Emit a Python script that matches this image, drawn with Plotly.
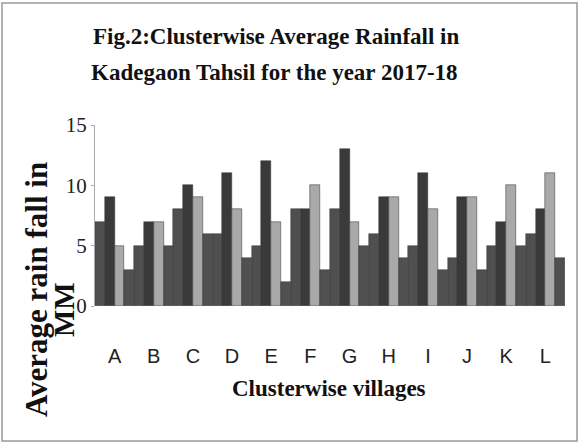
import plotly.graph_objects as go

villages = ["A", "B", "C", "D", "E", "F", "G", "H", "I", "J", "K", "L"]
series1 = [7, 5, 8, 6, 5, 8, 8, 6, 5, 4, 5, 6]
series2 = [9, 7, 10, 11, 12, 8, 13, 9, 11, 9, 7, 8]
series3 = [5, 7, 9, 8, 7, 10, 7, 9, 8, 9, 10, 11]
series4 = [3, 5, 6, 4, 2, 3, 5, 4, 3, 3, 5, 4]
y_ticks = [0, 5, 10, 15]

W, H = 580, 445
L, R, T, B = 95, 15, 125, 139
pw, ph = W - L - R, H - T - B

def px(x):
    return (x - L) / pw

def py(y):
    return (H - B - y) / ph

colors = ["#4f4f4f", "#3a3a3a", "#a9a9a9", "#505050"]
fig = go.Figure()
for s, c in zip([series1, series2, series3, series4], colors):
    fig.add_trace(go.Bar(x=villages, y=s, marker=dict(color=c, line=dict(width=0.5, color="#333"))))

serif = "Liberation Serif"
fig.update_layout(
    width=W, height=H,
    margin=dict(l=L, r=R, t=T, b=B),
    paper_bgcolor="white", plot_bgcolor="white",
    barmode="group", bargap=0.0, bargroupgap=0.0,
    showlegend=False,
    xaxis=dict(showline=False, ticks="", showgrid=False, ticklabelstandoff=36,
               tickfont=dict(family="Liberation Sans Narrow, Liberation Sans", size=20, color="#222")),
    yaxis=dict(range=[0, 15], tickvals=y_ticks, showgrid=False, showline=True,
               linecolor="#aaa", linewidth=1, ticks="outside", ticklen=3, tickcolor="#aaa",
               zeroline=False, tickfont=dict(family=serif, size=21, color="#222")),
    font=dict(family=serif, color="#111"),
)

fig.add_annotation(text="<b>Fig.2:Clusterwise Average Rainfall in</b>",
                   xref="paper", yref="paper", x=px(276), y=py(36), xanchor="center", yanchor="middle",
                   showarrow=False, font=dict(family=serif, size=23, color="#111"))
fig.add_annotation(text="<b>Kadegaon Tahsil for the year 2017-18</b>",
                   xref="paper", yref="paper", x=px(274), y=py(72), xanchor="center", yanchor="middle",
                   showarrow=False, font=dict(family=serif, size=23, color="#111"))
fig.add_annotation(text="<b>Clusterwise villages</b>", xref="paper", yref="paper",
                   x=px(329), y=py(388), xanchor="center", yanchor="middle", showarrow=False,
                   font=dict(family=serif, size=23, color="#111"))
fig.add_annotation(text="<b>Average rain fall in</b>", xref="paper", yref="paper",
                   x=px(36), y=py(290), xanchor="center", yanchor="middle", textangle=-90,
                   showarrow=False, font=dict(family=serif, size=31, color="#111"))
fig.add_annotation(text="<b>MM</b>", xref="paper", yref="paper",
                   x=px(64), y=py(310), xanchor="center", yanchor="middle", textangle=-90,
                   showarrow=False, font=dict(family=serif, size=29, color="#111"))
fig.add_shape(type="rect", xref="paper", yref="paper", x0=px(2), x1=px(577), y0=py(3), y1=py(441),
              line=dict(color="#999", width=1.5))

fig.write_html("out.html")
